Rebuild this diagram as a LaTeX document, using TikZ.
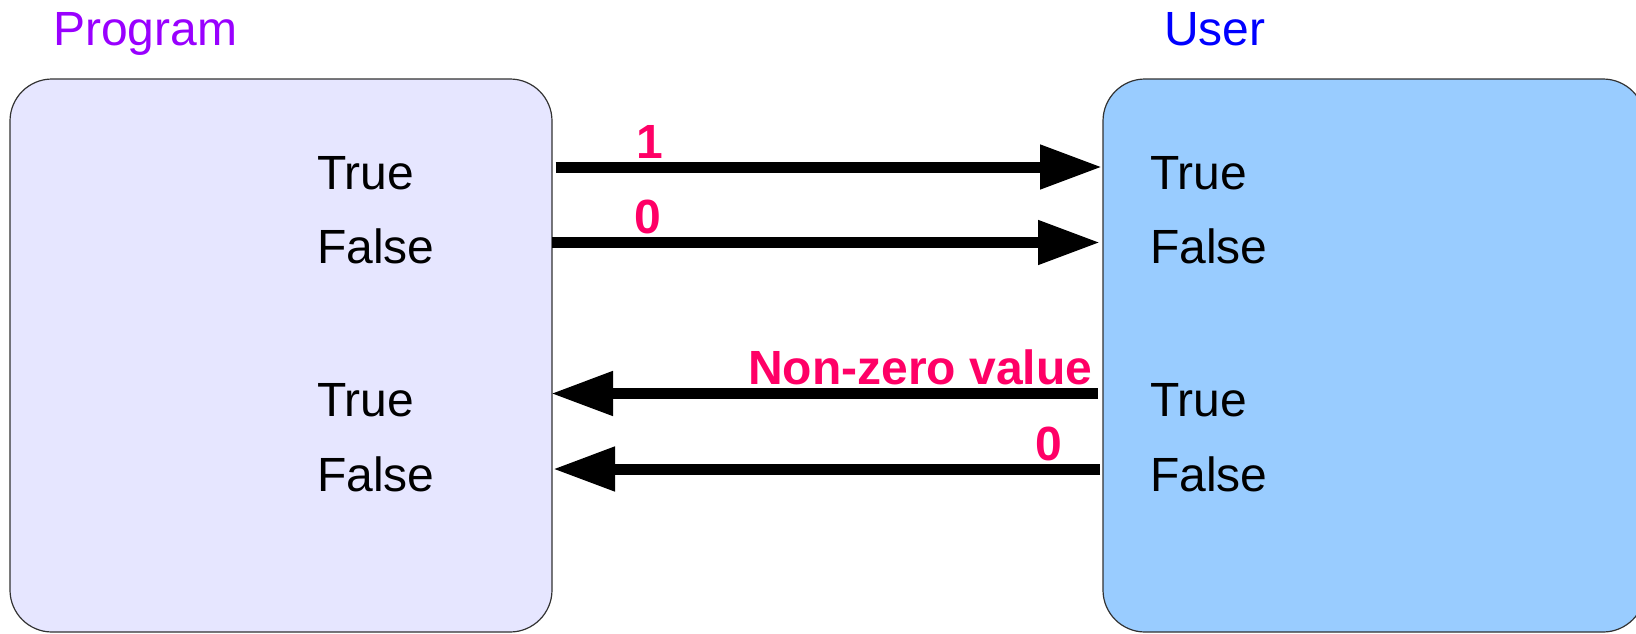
\documentclass[tikz,border=0pt]{standalone}
\usepackage{fontspec}
\setmainfont{Liberation Sans}
\usetikzlibrary{arrows.meta}
\definecolor{progcol}{RGB}{153,0,255}
\definecolor{usercol}{RGB}{0,0,255}
\definecolor{labcol}{RGB}{255,0,102}
\definecolor{progfill}{RGB}{230,230,255}
\definecolor{userfill}{RGB}{153,204,255}
\definecolor{edgecol}{RGB}{50,50,50}
\begin{document}
\begin{tikzpicture}[x=1pt,y=-1pt,
  box/.style={draw=edgecol,line width=1.2pt,rounded corners=42pt,minimum width=542pt,minimum height=553pt,inner sep=0pt},
  word/.style={anchor=base west,inner sep=0pt,font=\fontsize{48}{57}\selectfont},
  title/.style={anchor=base west,inner sep=0pt,font=\fontsize{48}{57}\selectfont},
  lab/.style={inner sep=0pt,text=labcol,font=\fontsize{48}{57}\selectfont\bfseries},
  bigarrow/.style={line width=11pt,-{Triangle[length=62pt,width=42pt]}}
]
\useasboundingbox (0,0) rectangle (1636,633);
\clip (0,0) rectangle (1636,633);
% boxes
\node[box,fill=progfill] (lbox) at (281,355.5) {};
\node[box,fill=userfill] (rbox) at (1374,355.5) {};
% titles
\node[title,text=progcol] (tprog) at (53,45) {Program};
\node[title,text=usercol] (tuser) at (1164,45) {User};
% words
\node[word] (lt1) at (317,189) {True};
\node[word] (lf1) at (317,263) {False};
\node[word] (lt2) at (317,416) {True};
\node[word] (lf2) at (317,491) {False};
\node[word] (rt1) at (1150,189) {True};
\node[word] (rf1) at (1150,263) {False};
\node[word] (rt2) at (1150,416) {True};
\node[word] (rf2) at (1150,491) {False};
% arrow end points
\coordinate (a1s) at (555.7,167);
\coordinate (a1e) at (1102,167);
\coordinate (a2s) at (552,242.5);
\coordinate (a2e) at (1100,242.5);
\coordinate (a3s) at (1098,393.5);
\coordinate (a3e) at (551,393.5);
\coordinate (a4s) at (1100,469);
\coordinate (a4e) at (553,469);
\draw[bigarrow] (a1s) -- (a1e);
\draw[bigarrow] (a2s) -- (a2e);
\draw[bigarrow] (a3s) -- (a3e);
\draw[bigarrow] (a4s) -- (a4e);
% labels
\node[lab,anchor=base] (l1) at (650,158) {1};
\node[lab,anchor=base] (l0a) at (648,233) {0};
\node[lab,anchor=base west] (lnz) at (748,384) {Non-zero value};
\node[lab,anchor=base] (l0b) at (1049,460) {0};
\end{tikzpicture}
\end{document}
